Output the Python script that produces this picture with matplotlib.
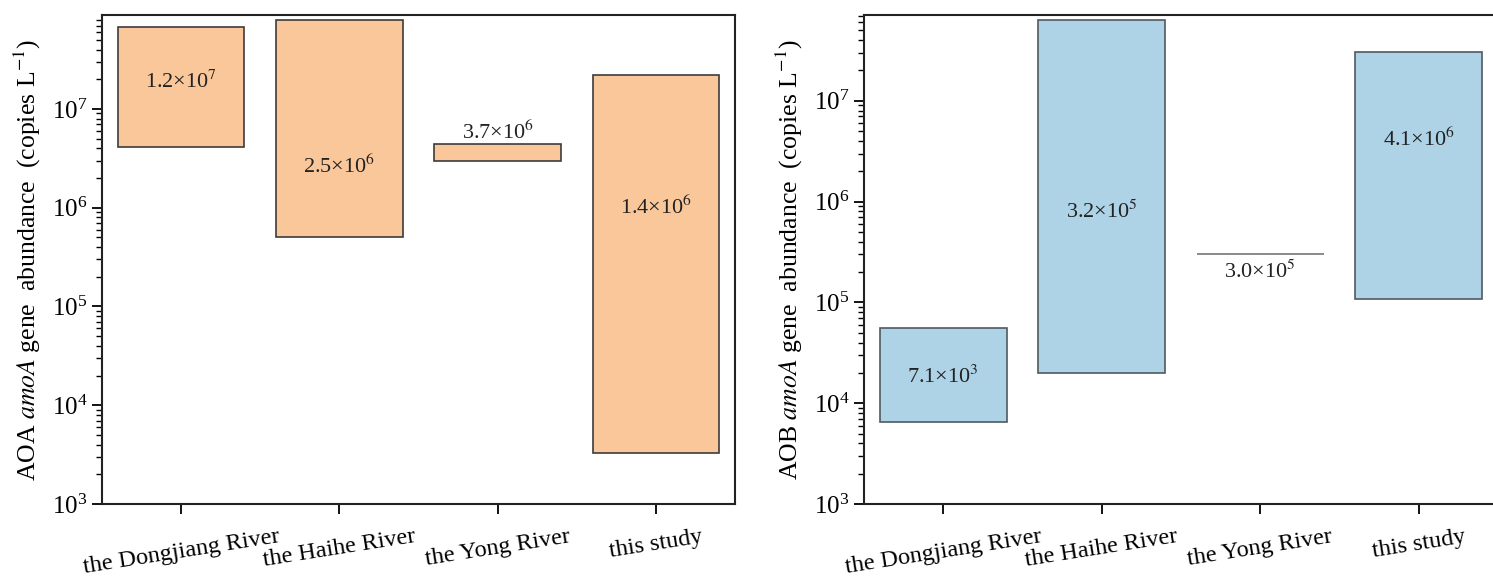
import numpy as np
import matplotlib
matplotlib.use("Agg")
import matplotlib.pyplot as plt
from matplotlib.ticker import LogLocator, NullFormatter

plt.rcParams['font.family'] = ['Liberation Serif', 'DejaVu Serif']
plt.rcParams['mathtext.fontset'] = 'stix'

# data
sites = ["the Dongjiang River", "the Haihe River", "the Yong River", "this study"]
aoa_low = [4.1e6, 5.0e5, 2.95e6, 3.3e3]
aoa_high = [6.8e7, 8.0e7, 4.4e6, 2.2e7]
aoa_text = [r"1.2×10$^{7}$", r"2.5×10$^{6}$", r"3.7×10$^{6}$", r"1.4×10$^{6}$"]
aoa_text_y = [1.9e7, 2.6e6, 5.8e6, 1.0e6]

aob_low = [6.5e3, 2.0e4, 3.0e5, 1.08e5]
aob_high = [5.6e4, 6.4e7, 3.0e5, 3.07e7]
aob_text = [r"7.1×10$^{3}$", r"3.2×10$^{5}$", r"3.0×10$^{5}$", r"4.1×10$^{6}$"]
aob_text_y = [1.85e4, 8.0e5, 2.0e5, 4.1e6]

fig = plt.figure(figsize=(14.93, 5.83), dpi=100)
ax1 = fig.add_axes([0.0683, 0.1355, 0.424, 0.8385])
ax2 = fig.add_axes([0.5787, 0.1355, 0.4246, 0.8385])

def draw(ax, low, high, texts, text_y, color, edge, ylabel, ytop):
    x = np.arange(len(sites))
    low = np.array(low)
    high = np.array(high)
    ax.bar(x, high - low, bottom=low, width=0.8, color=color,
           edgecolor=edge, linewidth=1.2)
    for xi, t, ty in zip(x, texts, text_y):
        ax.text(xi, ty, t, ha='center', va='center', fontsize=16, color='#222222')
    ax.set_yscale('log')
    ax.set_ylim(1e3, ytop)
    ax.set_xlim(-0.5, 3.5)
    ax.set_xticks(x)
    ax.set_xticklabels(sites, rotation=9, fontsize=17.5)
    ax.yaxis.set_major_locator(LogLocator(base=10, numticks=10))
    ax.yaxis.set_minor_locator(LogLocator(base=10, subs=np.arange(2, 10), numticks=10))
    ax.yaxis.set_minor_formatter(NullFormatter())
    ax.tick_params(axis='y', which='major', direction='out', length=7, width=1.3, labelsize=18)
    ax.tick_params(axis='y', which='minor', direction='out', length=4, width=1.0)
    ax.tick_params(axis='x', direction='out', length=7, width=1.3, pad=9)
    for s in ax.spines.values():
        s.set_linewidth(1.5)
        s.set_color('#222222')
    ax.set_ylabel(ylabel, fontsize=18.5, labelpad=6)

draw(ax1, aoa_low, aoa_high, aoa_text, aoa_text_y, '#F9C79A', '#3c3c3c',
     r"AOA $\mathit{amoA}$ gene  abundance  (copies L$^{\mathrm{-1}}$)", 10**7.95)
draw(ax2, aob_low, aob_high, aob_text, aob_text_y, '#AED2E6', '#505a60',
     r"AOB $\mathit{amoA}$ gene  abundance  (copies L$^{\mathrm{-1}}$)", 10**7.85)
ax2.patches[2].set_edgecolor('#777777')

fig.savefig("out.png", dpi=100)
